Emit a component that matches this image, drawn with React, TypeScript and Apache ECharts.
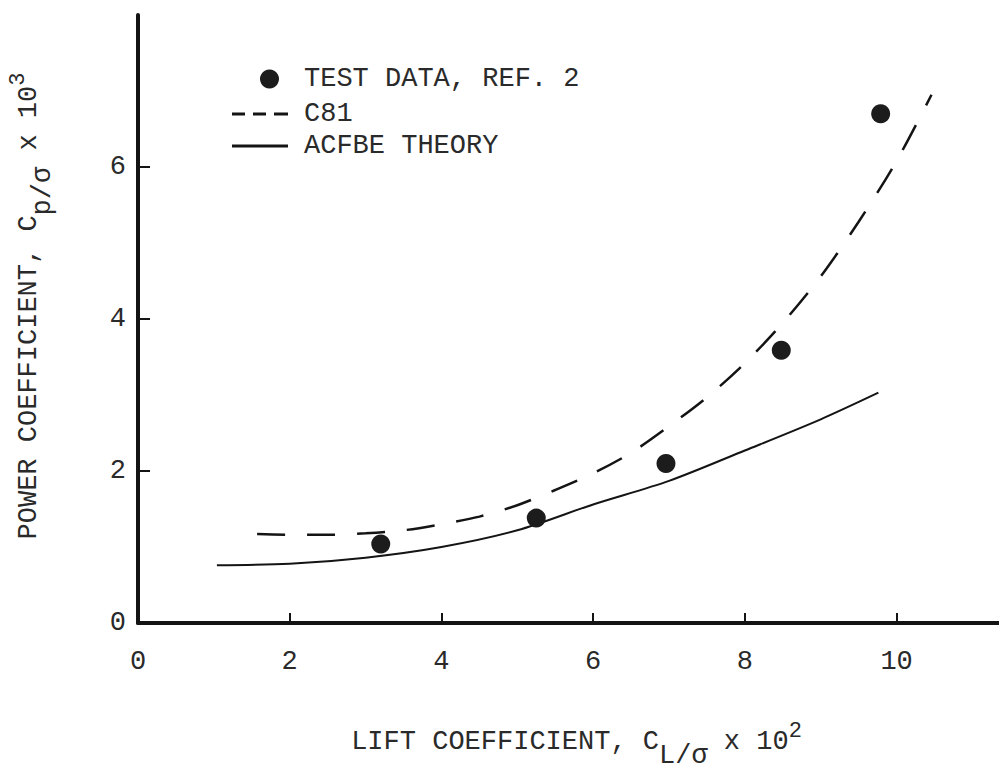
import React, { useEffect, useRef } from "react";
import * as echarts from "echarts";

// ---- data ----
const xTickLabels = [0, 2, 4, 6, 8, 10];
const xTickMarks = [2, 4, 6, 8, 10];
const yTickLabels = [0, 2, 4, 6];
const yTickMarks = [2, 4, 6];

const testName = "TEST DATA, REF. 2";
const testX = [3.2, 5.25, 6.96, 8.48, 9.79];
const testY = [1.04, 1.38, 2.1, 3.59, 6.7];

const c81Name = "C81";
const c81X = [1.57, 2, 2.5, 3, 3.5, 4, 4.5, 5, 5.5, 6, 6.5, 7, 7.5, 8, 8.5, 9, 9.5, 10, 10.46];
const c81Y = [1.17, 1.16, 1.16, 1.18, 1.22, 1.3, 1.4, 1.55, 1.75, 1.97, 2.24, 2.59, 2.97, 3.42, 3.95, 4.56, 5.28, 6.08, 6.95];

const acfbeName = "ACFBE THEORY";
const acfbeX = [1.04, 2, 3, 4, 5, 6, 7, 8, 9, 9.76];
const acfbeY = [0.76, 0.78, 0.86, 1.0, 1.22, 1.56, 1.87, 2.27, 2.68, 3.03];

const zip = (xs: number[], ys: number[]) => xs.map((x, i) => [x, ys[i]]);

export default function App() {
  const ref = useRef<HTMLDivElement>(null);
  useEffect(() => {
    if (!ref.current) return;
    const chart = echarts.init(ref.current, null, { renderer: "svg" });
    const FONT = '"Liberation Mono", "DejaVu Sans Mono", monospace';
    const textColor = "#2a2a2a";
    const ink = "#141414";
    const main = { fontFamily: FONT, fontSize: 27, color: textColor, lineHeight: 27, padding: [8, 0, 0, 0], verticalAlign: "top" };
    const sub = { ...main, padding: [22, 0, 0, 0] };
    const sup = { fontFamily: FONT, fontSize: 22, color: textColor, lineHeight: 22, padding: [0, 0, 0, 0], verticalAlign: "top" };
    const legendText = { fontFamily: FONT, fontSize: 27, color: textColor, lineHeight: 30 };
    const dashIcon = "path://M0,0H13V3H0Z M21,0H34V3H21Z M42,0H56V3H42Z";
    const solidIcon = "path://M0,0H56V3H0Z";

    chart.setOption({
      animation: false,
      backgroundColor: "#ffffff",
      grid: { left: 138, top: 15, right: 0, bottom: 150, containLabel: false, outerBoundsMode: "none" },
      legend: [
        {
          data: [{ name: testName, icon: "circle" }],
          left: 260, top: 64, padding: 0, itemWidth: 19, itemHeight: 19,
          selectedMode: false, itemStyle: { borderWidth: 0, opacity: 1 },
          textStyle: { ...legendText, padding: [0, 0, 0, 20] },
        },
        {
          data: [{ name: c81Name, icon: dashIcon }],
          left: 232, top: 99, padding: 0, itemWidth: 56, itemHeight: 3,
          selectedMode: false, itemStyle: { borderWidth: 0 },
          textStyle: { ...legendText, padding: [0, 0, 0, 11] },
        },
        {
          data: [{ name: acfbeName, icon: solidIcon }],
          left: 232, top: 131, padding: 0, itemWidth: 56, itemHeight: 3,
          selectedMode: false, itemStyle: { borderWidth: 0 },
          textStyle: { ...legendText, padding: [0, 0, 0, 11] },
        },
      ],
      xAxis: {
        type: "value",
        min: 0,
        max: 11.35,
        interval: 2,
        name: "{m0|LIFT COEFFICIENT, C}{s|L/σ}{m| x 10}{u|2}",
        nameLocation: "middle",
        nameGap: 97,
        nameTextStyle: { rich: { m0: { ...main, padding: [8, 0, 0, 16] }, m: main, s: sub, u: sup } },
        axisLine: { show: true, lineStyle: { color: ink, width: 4 } },
        axisTick: { show: true, inside: true, length: 10, customValues: xTickMarks, lineStyle: { color: ink, width: 2 } },
        axisLabel: { customValues: xTickLabels, margin: 25, fontFamily: FONT, fontSize: 27, lineHeight: 27, color: textColor },
        splitLine: { show: false },
      },
      yAxis: {
        type: "value",
        min: 0,
        max: 8,
        interval: 2,
        name: "{m0|POWER COEFFICIENT, C}{s|p/σ}{m| x 10}{u|3}",
        nameLocation: "middle",
        nameRotate: 90,
        nameGap: 104,
        nameTextStyle: { rich: { m0: { ...main, padding: [8, 0, 0, 26] }, m: main, s: sub, u: sup } },
        axisLine: { show: true, lineStyle: { color: ink, width: 4 } },
        axisTick: { show: true, inside: true, length: 12, customValues: yTickMarks, lineStyle: { color: ink, width: 2 } },
        axisLabel: { customValues: yTickLabels, margin: 12, fontFamily: FONT, fontSize: 27, lineHeight: 27, color: textColor },
        splitLine: { show: false },
      },
      series: [
        {
          type: "scatter",
          name: testName,
          data: zip(testX, testY),
          symbol: "circle",
          symbolSize: 19,
          itemStyle: { color: "#1c1c1c", opacity: 1 },
          z: 4,
        },
        {
          type: "line",
          name: c81Name,
          data: zip(c81X, c81Y),
          symbol: "none",
          showSymbol: false,
          smooth: 0.3,
          lineStyle: { color: ink, width: 2.5, type: [28, 22] },
          itemStyle: { color: ink },
          z: 3,
        },
        {
          type: "line",
          name: acfbeName,
          data: zip(acfbeX, acfbeY),
          symbol: "none",
          showSymbol: false,
          smooth: 0.3,
          lineStyle: { color: ink, width: 2 },
          itemStyle: { color: ink },
          z: 3,
        },
      ],
    });
    return () => chart.dispose();
  }, []);
  return <div ref={ref} style={{ position: "absolute", left: 0, top: 0, width: 999, height: 773 }} />;
}
